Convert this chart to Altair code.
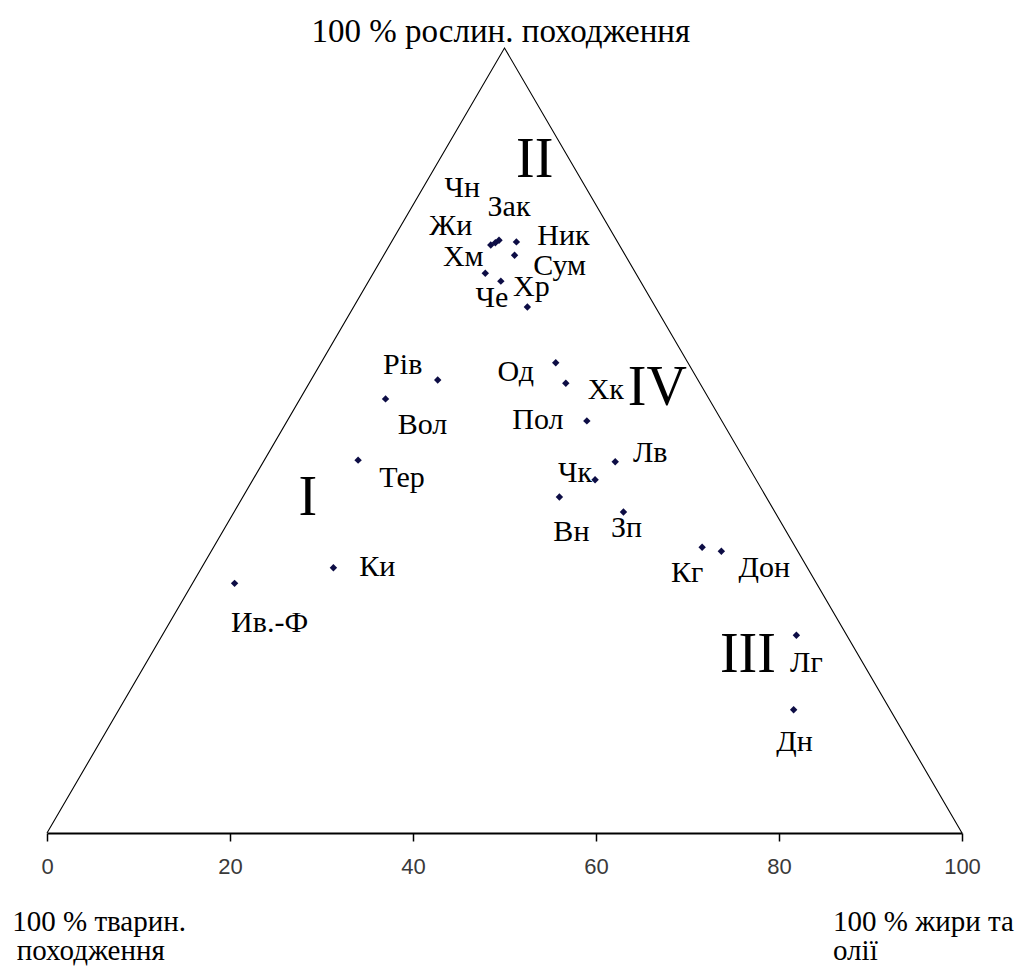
import altair as alt
import pandas as pd

# --- data -----------------------------------------------------------------
regions = ["Ив.-Ф", "Ки", "Тер", "Вол", "Рів", "Чн", "Зак", "Жи", "Ник", "Сум",
           "Хм", "Че", "Хр", "Од", "Хк", "Пол", "Лв", "Чк", "Вн", "Зп",
           "Кг", "Дон", "Лг", "Дн"]
fats_oils = [20.5, 31.3, 34.0, 37.0, 42.7, 49.0, 49.4, 48.5, 51.3, 51.1,
             47.9, 49.6, 52.5, 55.6, 56.7, 59.0, 62.1, 59.9, 56.0, 63.0,
             71.6, 73.7, 81.9, 81.6]
plant = [31.8, 33.8, 47.5, 55.3, 57.7, 75.2, 75.5, 74.9, 75.3, 73.6,
         71.3, 70.3, 67.0, 59.9, 57.3, 52.5, 47.3, 45.0, 42.8, 40.9,
         36.4, 35.9, 25.2, 15.7]

group_names = ["I", "II", "III", "IV"]
group_x = [28.5, 53.3, 76.6, 66.7]
group_y = [42.7, 85.7, 22.7, 56.7]

tick_values = [0, 20, 40, 60, 80, 100]
vertex_x = [0, 50, 100]
vertex_y = [0, 100, 0]

# --- layout ----------------------------------------------------------------
W, H = 915, 785
PX_X = W / 100.0
PX_Y = H / 100.0

# label offsets from each point, in pixels (dx right, dy down)
label_offsets = {
    "Ив.-Ф": (35, 40), "Ки": (44, -1), "Тер": (44, 18), "Вол": (37, 26),
    "Рів": (-35, -15), "Чн": (-33, -55), "Зак": (10, -33), "Жи": (-40, -19),
    "Ник": (47, -6), "Сум": (45, 11), "Хм": (-22, -16), "Че": (-9, 17),
    "Хр": (4, -20), "Од": (-40, 9), "Хк": (40, 7), "Пол": (-49, -1),
    "Лв": (35, -9), "Чк": (-20, -7), "Вн": (12, 35), "Зп": (3, 16),
    "Кг": (-15, 26), "Дон": (43, 17), "Лг": (10, 28), "Дн": (1, 32),
}

pts = pd.DataFrame({"region": regions, "x": fats_oils, "y": plant})
pts["lx"] = [x + label_offsets[r][0] / PX_X for r, x in zip(regions, fats_oils)]
pts["ly"] = [y - label_offsets[r][1] / PX_Y for r, y in zip(regions, plant)]

tri = pd.DataFrame({"x": vertex_x, "y": vertex_y, "o": [0, 1, 2]})
groups = pd.DataFrame({"g": group_names, "x": group_x, "y": group_y})

corner = pd.DataFrame({
    "t": ["100 % тварин.", "походження", "100 % жири та", "олії"],
    "x": [-3.8, -3.3, 85.9, 85.9],
    "y": [-11.3, -15.0, -11.3, -15.0],
})
top = pd.DataFrame({"t": ["100 % рослин. походження"], "x": [49.6], "y": [102.0]})

xs = alt.Scale(domain=[0, 100], nice=False, zero=False)
ys = alt.Scale(domain=[0, 100], nice=False, zero=False)

SERIF = "'Liberation Serif', 'Times New Roman', serif"

base_x = alt.X("x:Q", scale=xs,
               axis=alt.Axis(values=tick_values, title=None, grid=False,
                             domainColor="black", domainWidth=2,
                             tickColor="black", tickSize=8, tickWidth=1.5,
                             labelFont="Liberation Sans", labelFontSize=22,
                             labelColor="#3a3a3a", labelPadding=15,
                             labelFlush=False))
base_y = alt.Y("y:Q", scale=ys, axis=None)

sides = alt.Chart(tri).mark_line(color="black", strokeWidth=1.1).encode(
    x=base_x, y=base_y, order="o:Q")

points = alt.Chart(pts).mark_point(shape="diamond", filled=True, size=55,
                                   color="#0d0d45", opacity=1).encode(
    x=alt.X("x:Q", scale=xs), y=alt.Y("y:Q", scale=ys))

labels = alt.Chart(pts).mark_text(font=SERIF, fontSize=30, color="black",
                                  align="center", baseline="middle").encode(
    x=alt.X("lx:Q", scale=xs), y=alt.Y("ly:Q", scale=ys), text="region:N")

group_text = alt.Chart(groups).mark_text(font=SERIF, fontSize=56, color="black",
                                         align="center", baseline="middle").encode(
    x=alt.X("x:Q", scale=xs), y=alt.Y("y:Q", scale=ys), text="g:N")

corner_text = alt.Chart(corner).mark_text(font=SERIF, fontSize=29, color="black",
                                          align="left", baseline="middle").encode(
    x=alt.X("x:Q", scale=xs), y=alt.Y("y:Q", scale=ys), text="t:N")

top_text = alt.Chart(top).mark_text(font=SERIF, fontSize=33, color="black",
                                    align="center", baseline="middle").encode(
    x=alt.X("x:Q", scale=xs), y=alt.Y("y:Q", scale=ys), text="t:N")

chart = alt.layer(sides, points, labels, group_text, corner_text, top_text).properties(
    width=W, height=H,
    autosize=alt.AutoSizeParams(type="none"),
    padding={"left": 39, "top": 40, "right": 65, "bottom": 137},
).configure_view(stroke=None)

chart.save("out.html", embed_options={"renderer": "svg", "actions": False})
